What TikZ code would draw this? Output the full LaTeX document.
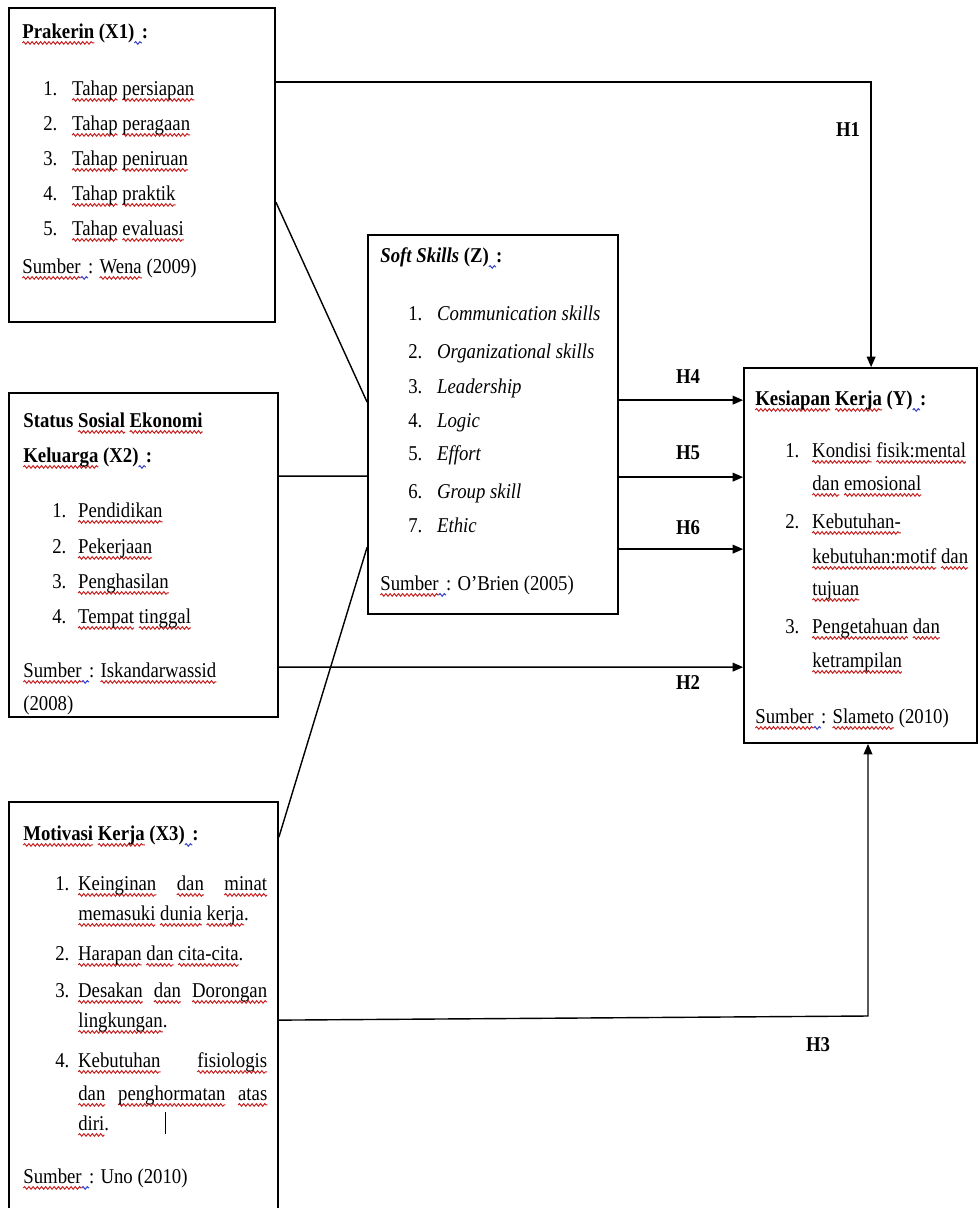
\documentclass[tikz,border=0pt]{standalone}
\usepackage{fontspec}
\setmainfont{Liberation Serif}[FakeStretch=0.89]
\usetikzlibrary{arrows.meta,fit,calc,decorations.pathmorphing}
\definecolor{sqred}{RGB}{200,30,30}
\definecolor{sqblue}{RGB}{50,60,200}
\newsavebox\sqbox
\newlength\sqwd
\newcommand\sqw[2]{\sbox\sqbox{#2}\setlength\sqwd{\wd\sqbox}%
  \tikz[overlay,baseline=0pt]\draw[#1,line width=0.55pt,decorate,decoration={snake,amplitude=0.75pt,segment length=2.4pt}] (0pt,-2.8pt) -- (\sqwd,-2.8pt);%
  \usebox\sqbox}
\newcommand\rsq[1]{\sqw{sqred}{#1}}
\newcommand\bsq[1]{\sqw{sqblue}{#1}}
\newcommand\gsp{\bsq{\hspace*{.35em}}}
\newcommand\nb[2]{\makebox[#1][l]{#2}}
\tikzset{
  box/.style={draw, line width=1pt, inner sep=0pt},
  ln/.style={line width=0.8pt},
  arr/.style={ln, -{Triangle[length=6pt,width=5pt]}},
  txt/.style={anchor=base west, inner sep=0pt, font=\fontsize{12}{14}\selectfont},
  hl/.style={inner sep=0pt, font=\fontsize{12}{14}\selectfont\bfseries}
}
\begin{document}
\begin{tikzpicture}[x=0.02cm,y=-0.02cm]
\useasboundingbox (0,0) rectangle (979,1208);
\clip (0,0) rectangle (979,1208);
\fill[white] (0,0) rectangle (979,1208);

% boxes
\node[box, fit={(9,8) (275,322)}] (X1) {};
\node[box, fit={(9,393) (278,717)}] (X2) {};
\node[box, fit={(9,802) (278,1214)}] (X3) {};
\node[box, fit={(368,235) (618,614)}] (Z) {};
\node[box, fit={(744,368) (977,743)}] (Y) {};

% X1 text
\node[txt] (x1t) at (22,38) {\textbf{\rsq{Prakerin} (X1)\gsp:}};
\node[txt] (x1a) at (43,95) {\nb{16.4pt}{1.}\rsq{Tahap} \rsq{persiapan}};
\node[txt] (x1b) at (43,130) {\nb{16.4pt}{2.}\rsq{Tahap} \rsq{peragaan}};
\node[txt] (x1c) at (43,165) {\nb{16.4pt}{3.}\rsq{Tahap} \rsq{peniruan}};
\node[txt] (x1d) at (43,200) {\nb{16.4pt}{4.}\rsq{Tahap} \rsq{praktik}};
\node[txt] (x1e) at (43,235) {\nb{16.4pt}{5.}\rsq{Tahap} \rsq{evaluasi}};
\node[txt] (x1s) at (22,273) {\rsq{Sumber}\gsp: \rsq{Wena} (2009)};

% X2 text
\node[txt] (x2t) at (23,427) {\textbf{Status \rsq{Sosial} \rsq{Ekonomi}}};
\node[txt] (x2u) at (23,462) {\textbf{\rsq{Keluarga} (X2)\gsp:}};
\node[txt] (x2a) at (52,517) {\nb{14.7pt}{1.}\rsq{Pendidikan}};
\node[txt] (x2b) at (52,553) {\nb{14.7pt}{2.}\rsq{Pekerjaan}};
\node[txt] (x2c) at (52,588) {\nb{14.7pt}{3.}\rsq{Penghasilan}};
\node[txt] (x2d) at (52,623) {\nb{14.7pt}{4.}\rsq{Tempat} \rsq{tinggal}};
\node[txt] (x2s) at (23,677) {\rsq{Sumber}\gsp: \rsq{Iskandarwassid}};
\node[txt] (x2y) at (23,710) {(2008)};

% X3 text
\node[txt] (x3t) at (23,840) {\textbf{\rsq{Motivasi} \rsq{Kerja} (X3)\gsp:}};
\node[txt] (x3a) at (55,890) {\nb{13pt}{1.}\makebox[3.78cm][s]{\rsq{Keinginan} \rsq{dan} \rsq{minat}}};
\node[txt] (x3b) at (78,920) {\rsq{memasuki} \rsq{dunia} \rsq{kerja}.};
\node[txt] (x3c) at (55,960) {\nb{13pt}{2.}\rsq{Harapan} \rsq{dan} \rsq{cita-cita}.};
\node[txt] (x3d) at (55,997) {\nb{13pt}{3.}\makebox[3.78cm][s]{\rsq{Desakan} \rsq{dan} \rsq{Dorongan}}};
\node[txt] (x3e) at (78,1027) {\rsq{lingkungan}.};
\node[txt] (x3f) at (55,1067) {\nb{13pt}{4.}\makebox[3.78cm][s]{\rsq{Kebutuhan} \rsq{fisiologis}}};
\node[txt] (x3g) at (78,1100) {\makebox[3.78cm][s]{\rsq{dan} \rsq{penghormatan} \rsq{atas}}};
\node[txt] (x3h) at (78,1130) {\rsq{diri}.};
\node[txt] (x3s) at (23,1183) {\rsq{Sumber}\gsp: Uno (2010)};
\draw[line width=0.4pt] (165,1112) -- (165,1134);

% Z text
\node[txt] (zt) at (380,262) {\textbf{\textit{Soft Skills} (Z)\gsp:}};
\node[txt] (za) at (408,320) {\nb{16.4pt}{1.}\textit{Communication skills}};
\node[txt] (zb) at (408,358) {\nb{16.4pt}{2.}\textit{Organizational skills}};
\node[txt] (zc) at (408,393) {\nb{16.4pt}{3.}\textit{Leadership}};
\node[txt] (zd) at (408,427) {\nb{16.4pt}{4.}\textit{Logic}};
\node[txt] (ze) at (408,460) {\nb{16.4pt}{5.}\textit{Effort}};
\node[txt] (zf) at (408,498) {\nb{16.4pt}{6.}\textit{Group skill}};
\node[txt] (zg) at (408,532) {\nb{16.4pt}{7.}\textit{Ethic}};
\node[txt] (zs) at (380,590) {\rsq{Sumber}\gsp: O’Brien (2005)};

% Y text
\node[txt] (yt) at (755,405) {\textbf{\rsq{Kesiapan} \rsq{Kerja} (Y)\gsp:}};
\node[txt] (ya) at (785,457) {\nb{15.3pt}{1.}\rsq{Kondisi} \rsq{fisik:mental}};
\node[txt] (yb) at (812,490) {\rsq{dan} \rsq{emosional}};
\node[txt] (yc) at (785,528) {\nb{15.3pt}{2.}\rsq{Kebutuhan-}};
\node[txt] (yd) at (812,563) {\rsq{kebutuhan:motif} \rsq{dan}};
\node[txt] (ye) at (812,595) {\rsq{tujuan}};
\node[txt] (yf) at (785,633) {\nb{15.3pt}{3.}\rsq{Pengetahuan} \rsq{dan}};
\node[txt] (yg) at (812,667) {\rsq{ketrampilan}};
\node[txt] (ys) at (755,723) {\rsq{Sumber}\gsp: \rsq{Slameto} (2010)};

% connectors
\draw[arr] ($(X1.north east)+(0,75)$) -| ($(Y.north west)+(128,0)$);
\draw[ln] ($(X1.north east)+(0,195)$) -- ($(Z.north west)+(0,168)$);
\draw[ln] ($(X2.north east)+(0,84)$) -- ($(Z.north west)+(0,242)$);
\draw[ln] ($(X3.north east)+(0,36)$) -- ($(Z.north west)+(0,313)$);
\draw[arr] ($(Z.north east)+(0,166)$) -- ($(Y.north west)+(0,33)$);
\draw[arr] ($(Z.north east)+(0,243)$) -- ($(Y.north west)+(0,110)$);
\draw[arr] ($(Z.north east)+(0,315)$) -- ($(Y.north west)+(0,182)$);
\draw[arr] ($(X2.north east)+(0,275)$) -- ($(Y.north west)+(0,300)$);
\coordinate (h3c) at (868,1016);
\draw[arr] ($(X3.north east)+(0,219)$) -- (h3c) -- (h3c |- Y.south);

% labels
\node[hl] (lh1) at (848,130) {H1};
\node[hl] (lh4) at (688,377) {H4};
\node[hl] (lh5) at (688,453) {H5};
\node[hl] (lh6) at (688,528) {H6};
\node[hl] (lh2) at (688,683) {H2};
\node[hl] (lh3) at (818,1045) {H3};
\end{tikzpicture}
\end{document}
